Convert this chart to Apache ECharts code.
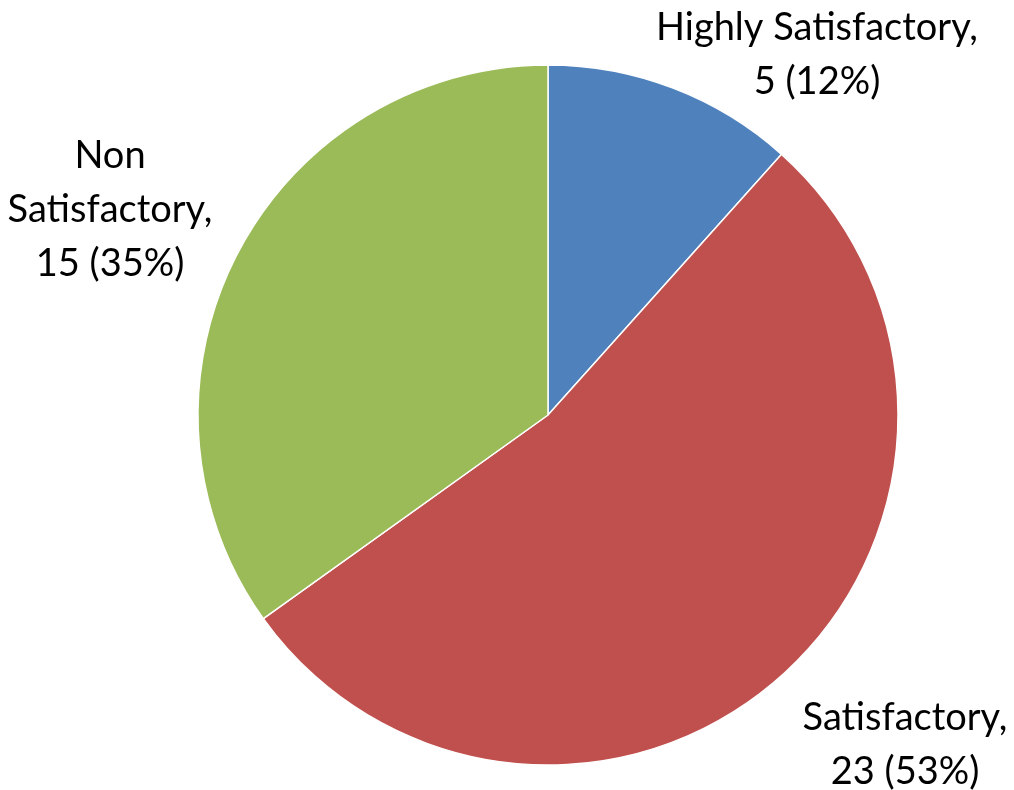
<!DOCTYPE html>
<html>
<head>
<meta charset="utf-8">
<script src="https://cdn.jsdelivr.net/npm/echarts@6/dist/echarts.min.js"></script>
<style>
  html, body { margin: 0; padding: 0; background: #fff; }
  #chart { width: 1014px; height: 790px; }
</style>
</head>
<body>
<div id="chart"></div>
<script>
const categories = ["Highly Satisfactory", "Satisfactory", "Non Satisfactory"];
const labelNames = ["Highly Satisfactory", "Satisfactory", "Non\nSatisfactory"];
const values = [5, 23, 15];
const colors = ["#4F81BD", "#C0504D", "#9BBB59"];
// where each label's centre sits
const labelSpots = [[817, 55], [905, 745], [110, 210]];

const chart = echarts.init(document.getElementById("chart"));
chart.setOption({
  animation: false,
  color: colors,
  series: [{
    type: "pie",
    center: [548, 415],
    radius: 350,
    startAngle: 90,
    percentPrecision: 0,
    itemStyle: { borderColor: "#fff", borderWidth: 1.5 },
    label: {
      show: true,
      position: "outside",
      fontFamily: "Lato",
      fontSize: 38,
      lineHeight: 54,
      color: "#000",
      align: "center",
      overflow: "none",
      formatter: p => `${labelNames[p.dataIndex]},\n${p.value} (${p.percent}%)`
    },
    labelLine: { show: false },
    labelLayout: p => ({
      x: labelSpots[p.dataIndex][0],
      y: labelSpots[p.dataIndex][1],
      align: "center",
      verticalAlign: "middle"
    }),
    data: categories.map((c, i) => ({ name: c, value: values[i] }))
  }]
});
</script>
</body>
</html>
